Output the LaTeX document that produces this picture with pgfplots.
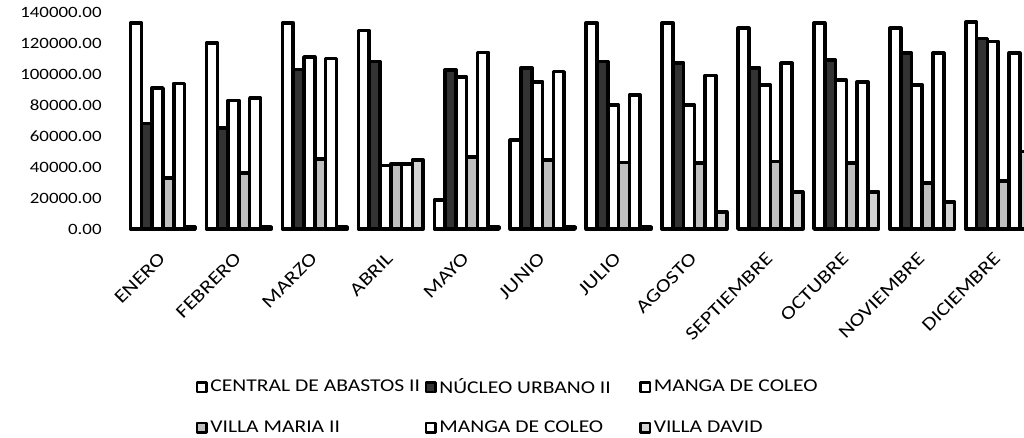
\documentclass[border=0pt]{standalone}
\usepackage{pgfplots}
\pgfplotsset{compat=1.18}
\usepackage{pgfplotstable}
\usepackage{fontspec}
\setmainfont{Carlito}[FakeStretch=1.2]

\pgfplotstableread{
x s1 s2 s3 s4 s5 s6
0 133000 68000 91000 33000 94000 1500
1 120000 65000 83000 36000 84500 1500
2 133000 103000 111000 45000 110000 1500
3 128000 108000 41000 42000 42000 44500
4 18700 102600 98000 46500 114000 1500
5 57400 104000 95000 44500 101500 1500
6 133000 108000 80000 43000 86500 1500
7 133000 107000 80000 42500 99000 11000
8 129500 104000 93000 43500 107000 24000
9 133000 109000 96000 42500 95000 24000
10 129500 113500 93000 29700 113500 17500
11 133500 123000 121000 31000 113500 50000
}\data

\begin{document}
\begin{tikzpicture}
\clip (-93.75pt,-156pt) rectangle (674.25pt,171.75pt);
\begin{axis}[
  at={(0,0)}, anchor=south west,
  scale only axis, width=674.25pt, height=162.75pt,
  xmin=-0.5, xmax=11.34, ymin=0, ymax=140000,
  clip=false,
  axis line style={draw=none},
  major tick length=0pt,
  ytick={0,20000,...,140000},
  scaled y ticks=false,
  /pgf/number format/fixed,
  /pgf/number format/fixed zerofill,
  /pgf/number format/precision=2,
  /pgf/number format/1000 sep={},
  /pgf/number format/assume math mode=true,
  yticklabel style={font=\fontsize{11.8}{14}\selectfont, xshift=-14pt},
  xtick={0,...,11},
  xticklabels={ENERO,FEBRERO,MARZO,ABRIL,MAYO,JUNIO,JULIO,AGOSTO,SEPTIEMBRE,OCTUBRE,NOVIEMBRE,DICIEMBRE},
  xticklabel style={font=\fontsize{14}{16}\selectfont, xshift=-4pt, yshift=-12pt, rotate=45, anchor=north east},
  ybar=0pt, bar width=0.142,
  every axis plot/.append style={draw=black, line width=2.7pt, line join=round},
  legend columns=3,
  legend cell align=left,
  legend image code/.code={\draw[#1, line width=1.8pt] (0pt,-3.5pt) rectangle (7pt,3.5pt);},
  legend style={draw=none, fill=none, at={(0,0)}, anchor=north west, xshift=50pt, yshift=-108pt,
    font=\fontsize{13.5}{16}\selectfont,
    /tikz/every odd column/.append style={column sep=0pt},
    /tikz/every even column/.append style={column sep=0pt},
    row sep=15pt},
]
\addplot[fill=white] table[x=x,y=s1]{\data};
\addplot[fill=black!80] table[x=x,y=s2]{\data};
\addplot[fill=white] table[x=x,y=s3]{\data};
\addplot[fill=gray!50] table[x=x,y=s4]{\data};
\addplot[fill=white] table[x=x,y=s5]{\data};
\addplot[fill=gray!35] table[x=x,y=s6]{\data};
\legend{\makebox[159pt][l]{CENTRAL DE ABASTOS II},\makebox[148pt][l]{NÚCLEO URBANO II},\makebox[148pt][l]{MANGA DE COLEO},\makebox[159pt][l]{VILLA MARIA II},\makebox[148pt][l]{MANGA DE COLEO},\makebox[148pt][l]{VILLA DAVID}}
\end{axis}
\end{tikzpicture}
\end{document}
